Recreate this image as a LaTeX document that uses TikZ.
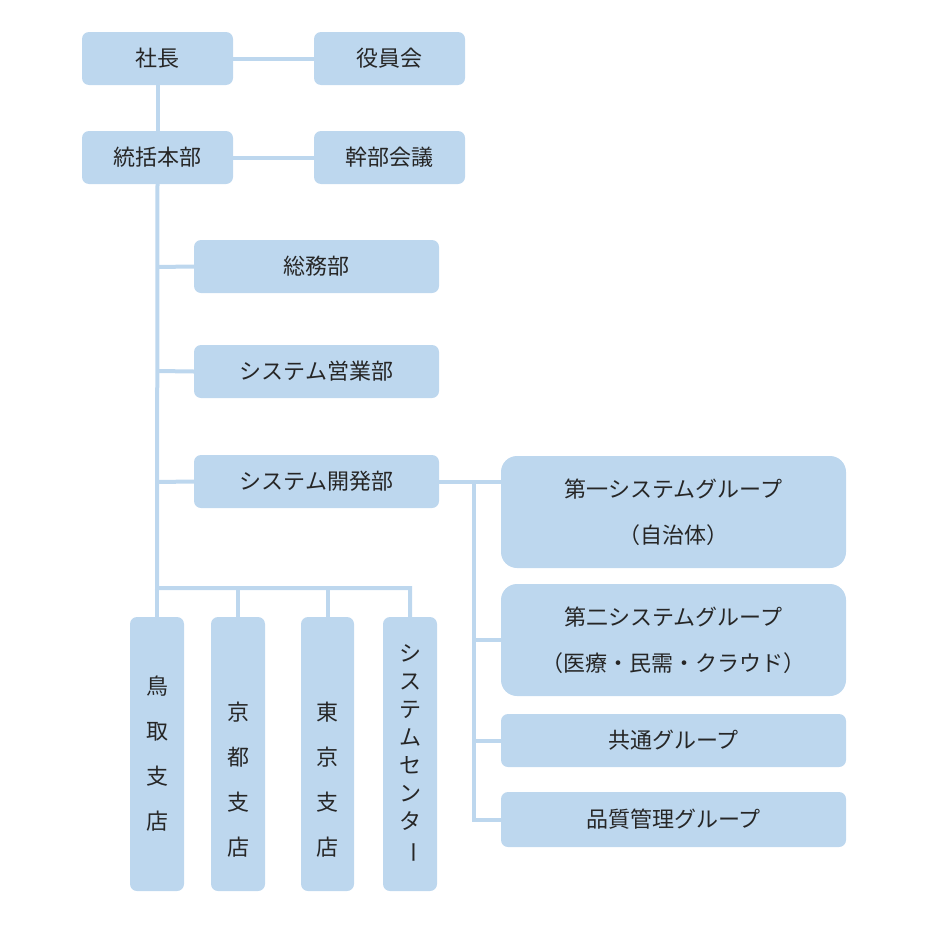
\documentclass[tikz,border=0pt]{standalone}
\usepackage{fontspec}
\setmainfont{Noto Sans CJK JP}
\usepackage{graphicx}
\begin{document}
\begin{tikzpicture}[x=1pt,y=-1pt,
  box/.style={fill=boxc,draw=none,rounded corners=7pt,font=\fontsize{22}{30}\selectfont,text=black!85},
  big/.style={box,rounded corners=16pt},
  ln/.style={draw=boxc,line width=4pt}]
\definecolor{boxc}{HTML}{BDD7EE}
\useasboundingbox (0,0) rectangle (937,926);
\newcommand{\bx}[6]{\node[#6,minimum width=#4-#2,minimum height=#5-#3,inner sep=0pt,align=center] (#1) at ({(#2+#4)/2},{(#3+#5)/2}) {};}
\bx{a}{82}{32}{233}{85}{box}
\bx{b}{314}{32}{465}{85}{box}
\bx{c}{82}{131}{233}{184}{box}
\bx{d}{314}{131}{465}{184}{box}
\bx{e}{194}{240}{439}{293}{box}
\bx{f}{194}{345}{439}{398}{box}
\bx{g}{194}{455}{439}{508}{box}
\bx{h}{501}{456}{846}{568}{big}
\bx{i}{501}{584}{846}{696}{big}
\bx{j}{501}{714}{846}{767}{box}
\bx{k}{501}{792}{846}{847}{box}
\bx{l}{130}{617}{184}{891}{box}
\bx{m}{211}{617}{265}{891}{box}
\bx{n}{301}{617}{354}{891}{box}
\bx{o}{383}{617}{437}{891}{box}
\tikzset{t/.style={font=\fontsize{22}{30}\selectfont,text=black!85,align=center}}
\node[t] at (a) {社長};
\node[t] at (b) {役員会};
\node[t] at (c) {統括本部};
\node[t] at (d) {幹部会議};
\node[t] at (e) {総務部};
\node[t] at (f) {システム営業部};
\node[t] at (g) {システム開発部};
\node[t,font=\fontsize{22}{46}\selectfont] at (h) {第一システムグループ\\（自治体）};
\node[t,font=\fontsize{22}{46}\selectfont] at (i) {第二システムグループ\\（医療・民需・クラウド）};
\node[t] at (j) {共通グループ};
\node[t] at (k) {品質管理グループ};
\node[t,font=\fontsize{22}{45}\selectfont] at ([yshift=0pt]l) {鳥\\取\\支\\店};
\node[t,font=\fontsize{22}{45}\selectfont] at ([yshift=-26pt]m.center) {京\\都\\支\\店};
\node[t,font=\fontsize{22}{45}\selectfont] at ([yshift=-26pt]n.center) {東\\京\\支\\店};
\node[t,font=\fontsize{22}{28}\selectfont] at (o) {シ\\ス\\テ\\ム\\セ\\ン\\タ\\\rotatebox[origin=c]{-90}{ー}};
\coordinate (p0) at (157,588);
\coordinate (p1) at (157,267);
\coordinate (p2) at (157,371);
\coordinate (p3) at (157,482);
\coordinate (q0) at (474,482);
\draw[ln] (a.east) -- (b.west);
\draw[ln] (c.east) -- (d.west);
\draw[ln] (a.south) -- (c.north);
\draw[ln] (c.south) -- (p0) -| (o.north);
\draw[ln] (l.north) -- (p0);
\draw[ln] (m.north) -- (m.north|-p0);
\draw[ln] (n.north) -- (n.north|-p0);
\draw[ln] (p1) -- (e.west);
\draw[ln] (p2) -- (f.west);
\draw[ln] (p3) -- (g.west);
\draw[ln] (g.east) -- (h.west|-g.east);
\draw[ln] (q0) -- (q0|-k.west) -- (k.west);
\draw[ln] (q0|-i.west) -- (i.west);
\draw[ln] (q0|-j.west) -- (j.west);
\end{tikzpicture}
\end{document}
